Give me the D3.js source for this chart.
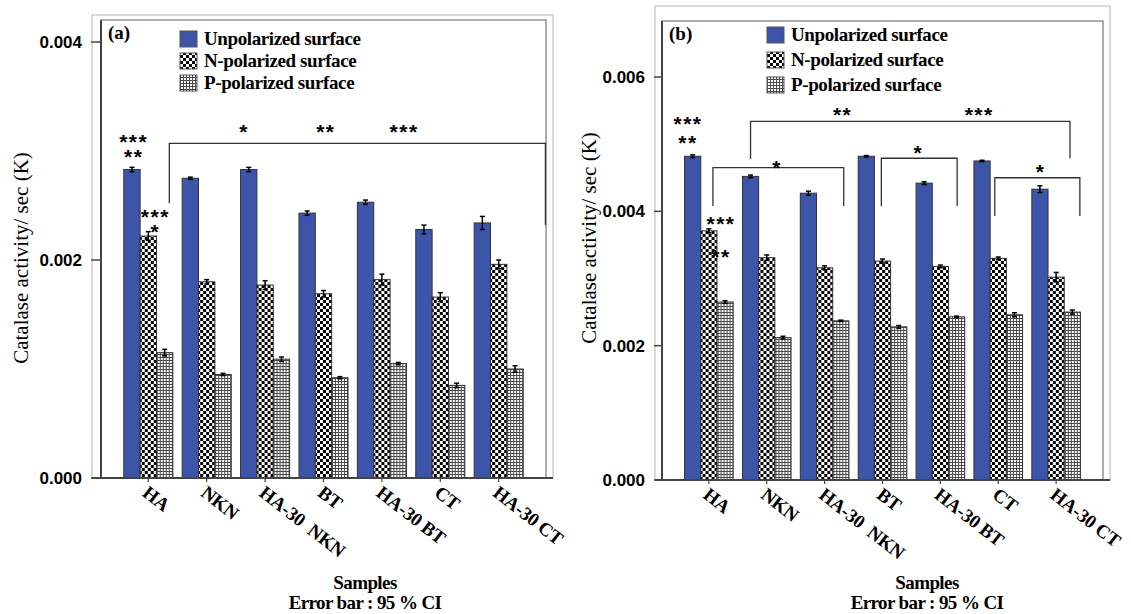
<!DOCTYPE html>
<html lang="en">
<head>
<meta charset="UTF-8">
<title>catalase activity</title>
<script src="https://d3js.org/d3.v7.min.js"></script>
<style>
  body { margin: 0; background: #fff; }
</style>
</head>
<body>
<script>
// categories + series
var samples = ["HA", "NKN", "HA-30  NKN", "BT", "HA-30 BT", "CT", "HA-30 CT"];
var seriesNames = ["Unpolarized surface", "N-polarized surface", "P-polarized surface"];

// panel (a) values
var aUnpol = [0.00283, 0.00275, 0.00283, 0.00243, 0.00253, 0.00228, 0.00234];
var aNpol  = [0.00222, 0.00180, 0.00177, 0.00169, 0.00182, 0.00166, 0.00196];
var aPpol  = [0.00115, 0.00095, 0.00109, 0.00092, 0.00105, 0.00085, 0.00100];
var aUnpolErr = [0.00002, 0.00001, 0.00002, 0.00002, 0.00002, 0.00004, 0.00006];
var aNpolErr  = [0.00004, 0.00002, 0.00004, 0.00003, 0.00005, 0.00004, 0.00004];
var aPpolErr  = [0.00003, 0.00001, 0.00002, 0.00001, 0.00001, 0.00002, 0.00003];
var aTicks = [0, 0.002, 0.004];

// panel (b)
var bUnpol = [0.00482, 0.00452, 0.00427, 0.00482, 0.00442, 0.00475, 0.00433];
var bNpol  = [0.00371, 0.00331, 0.00316, 0.00326, 0.00318, 0.00330, 0.00302];
var bPpol  = [0.00265, 0.00212, 0.00237, 0.00228, 0.00243, 0.00246, 0.00250];
var bUnpolErr = [0.00002, 0.00002, 0.00003, 0.00001, 0.00002, 0.00001, 0.00005];
var bNpolErr  = [0.00003, 0.00004, 0.00003, 0.00003, 0.00002, 0.00002, 0.00007];
var bPpolErr  = [0.00002, 0.00002, 0.00001, 0.00002, 0.00001, 0.00003, 0.00003];
var bTicks = [0, 0.002, 0.004, 0.006];

// significance marks, x in category-index units, y in data units
// (stacked star rows go into one text)
var aBrackets = [{x1: 0.36, x2: 6.8, top: 0.00307, d1: 0.00252, d2: 0.00232}];
var aStars = [
  {x: -0.25, y: 0.00313, t: ["***", "**"]},
  {x: 0.12, y: 0.00244, t: ["***", "*"]},
  {x: 1.64, y: 0.00322, t: ["*"]}, {x: 3.04, y: 0.00322, t: ["**"]}, {x: 4.38, y: 0.00322, t: ["***"]}
];
var bBrackets = [
  {x1: 0.72, x2: 6.24, top: 0.00534, d1: 0.00478, d2: 0.00479},
  {x1: 0.07, x2: 2.33, top: 0.00465, d1: 0.00408, d2: 0.00408},
  {x1: 2.98, x2: 4.29, top: 0.00479, d1: 0.00408, d2: 0.00408},
  {x1: 4.94, x2: 6.41, top: 0.00450, d1: 0.00393, d2: 0.00393}
];
var bStars = [
  {x: -0.36, y: 0.00538, t: ["***", "**"]},
  {x: 0.21, y: 0.00389, t: ["***"]}, {x: 0.21, y: 0.00340, t: ["**"]},
  {x: 2.31, y: 0.00551, t: ["**"]}, {x: 4.67, y: 0.00551, t: ["***"]},
  {x: 1.18, y: 0.00472, t: ["*"]}, {x: 3.62, y: 0.00494, t: ["*"]}, {x: 5.73, y: 0.00466, t: ["*"]}
];

var BLUE = "#3d55a9";
var SERIF = "'Liberation Serif', 'Times New Roman', serif";
var SANS = "'Liberation Sans', Arial, sans-serif";

var svg = d3.select("body").append("svg")
  .attr("width", 1131).attr("height", 614);

// fill patterns
var defs = svg.append("defs");
var chk = defs.append("pattern").attr("id", "chk")
  .attr("patternUnits", "userSpaceOnUse").attr("width", 6).attr("height", 6);
chk.append("rect").attr("width", 6).attr("height", 6).attr("fill", "#fff");
chk.append("rect").attr("width", 3).attr("height", 3).attr("fill", "#000");
chk.append("rect").attr("x", 3).attr("y", 3).attr("width", 3).attr("height", 3).attr("fill", "#000");

var grid = defs.append("pattern").attr("id", "grid")
  .attr("patternUnits", "userSpaceOnUse").attr("width", 3).attr("height", 3);
grid.append("rect").attr("width", 3).attr("height", 3).attr("fill", "#fff");
grid.append("path").attr("d", "M0,0.5H3M0.5,0V3").attr("stroke", "#4a4a4a").attr("stroke-width", 1);

var fills = [BLUE, "url(#chk)", "url(#grid)"];

function drawPanel(p) {
  var g = svg.append("g");

  var x = d3.scaleBand().domain(samples)
    .range([p.left, p.right]).paddingInner(0.16).paddingOuter(0.39);
  var xs = d3.scaleBand().domain([0, 1, 2]).range([0, x.bandwidth()]);
  var y = d3.scaleLinear().domain([0, p.tickMax]).range([p.bottom, p.tickTop]);
  var xi = function(i) { return x(samples[0]) + x.bandwidth() / 2 + i * x.step(); };

  // frames
  g.append("rect").attr("x", p.oLeft).attr("y", p.oTop)
    .attr("width", p.oRight - p.oLeft).attr("height", p.bottom - p.oTop)
    .attr("fill", "none").attr("stroke", "#b5b5b5").attr("stroke-width", 1);
  g.append("rect").attr("x", p.left).attr("y", p.top)
    .attr("width", p.right - p.left).attr("height", p.bottom - p.top)
    .attr("fill", "#fff").attr("stroke", "#777").attr("stroke-width", 1.2);

  // bars
  var rows = samples.map(function(s, i) {
    return {s: s, v: [p.vals[0][i], p.vals[1][i], p.vals[2][i]],
            e: [p.errs[0][i], p.errs[1][i], p.errs[2][i]]};
  });
  var grp = g.selectAll(".grp").data(rows).enter().append("g")
    .attr("transform", function(d) { return "translate(" + x(d.s) + ",0)"; });

  grp.selectAll("rect").data(function(d) { return d.v; }).enter().append("rect")
    .attr("x", function(d, k) { return xs(k); })
    .attr("y", function(d) { return y(d); })
    .attr("width", xs.bandwidth())
    .attr("height", function(d) { return y(0) - y(d); })
    .attr("fill", function(d, k) { return fills[k]; })
    .attr("stroke", "#333").attr("stroke-width", 1);

  // error bars
  var eb = grp.selectAll(".eb").data(function(d) {
    return d.v.map(function(v, k) { return {v: v, e: d.e[k], k: k}; });
  }).enter().append("g");
  eb.append("line")
    .attr("x1", function(d) { return xs(d.k) + xs.bandwidth() / 2; })
    .attr("x2", function(d) { return xs(d.k) + xs.bandwidth() / 2; })
    .attr("y1", function(d) { return y(d.v - d.e); })
    .attr("y2", function(d) { return y(d.v + d.e); })
    .attr("stroke", "#000").attr("stroke-width", 1.5);
  [1, -1].forEach(function(sgn) {
    eb.append("line")
      .attr("x1", function(d) { return xs(d.k) + xs.bandwidth() / 2 - 2.5; })
      .attr("x2", function(d) { return xs(d.k) + xs.bandwidth() / 2 + 2.5; })
      .attr("y1", function(d) { return y(d.v + sgn * d.e); })
      .attr("y2", function(d) { return y(d.v + sgn * d.e); })
      .attr("stroke", "#000").attr("stroke-width", 1.5);
  });

  // axes
  g.append("line").attr("x1", p.left).attr("x2", p.left)
    .attr("y1", p.top).attr("y2", p.bottom).attr("stroke", "#444").attr("stroke-width", 2);
  g.append("line").attr("x1", p.oLeft).attr("x2", p.oRight)
    .attr("y1", p.bottom).attr("y2", p.bottom).attr("stroke", "#444").attr("stroke-width", 2);

  g.selectAll(".yt").data(p.ticks).enter().append("line")
    .attr("x1", p.oLeft - 1).attr("x2", p.left)
    .attr("y1", function(d) { return y(d); }).attr("y2", function(d) { return y(d); })
    .attr("stroke", "#444").attr("stroke-width", 1.5);
  g.selectAll(".yl").data(p.ticks).enter().append("text")
    .attr("x", p.oLeft - 10).attr("y", function(d) { return y(d); })
    .attr("dy", "0.35em").attr("text-anchor", "end")
    .attr("font-family", SANS).attr("font-weight", "bold").attr("font-size", 17)
    .text(d3.format(".3f"));

  g.selectAll(".xt").data(samples).enter().append("line")
    .attr("x1", function(d) { return x(d) + x.bandwidth() / 2; })
    .attr("x2", function(d) { return x(d) + x.bandwidth() / 2; })
    .attr("y1", p.bottom).attr("y2", p.bottom + 4)
    .attr("stroke", "#444").attr("stroke-width", 1.2);
  g.selectAll(".xl").data(samples).enter().append("text")
    .attr("transform", function(d) {
      return "translate(" + (x(d) + x.bandwidth() / 2 - 7) + "," + (p.bottom + 17) + ") rotate(38)";
    })
    .attr("font-family", SERIF).attr("font-weight", "bold").attr("font-size", 19)
    .attr("letter-spacing", -0.3)
    .style("white-space", "pre")
    .text(function(d) { return d; });

  // axis titles
  g.append("text")
    .attr("transform", "translate(" + p.yTitleX + "," + p.yTitleY + ") rotate(-90)")
    .attr("text-anchor", "middle")
    .attr("font-family", SERIF).attr("font-size", 21)
    .text("Catalase activity/ sec (K)");
  g.append("text").attr("x", p.xTitleX).attr("y", 589)
    .attr("text-anchor", "middle")
    .attr("font-family", SERIF).attr("font-weight", "bold").attr("font-size", 19)
    .attr("letter-spacing", -0.6)
    .text("Samples");
  g.append("text").attr("x", p.xTitleX).attr("y", 609)
    .attr("text-anchor", "middle")
    .attr("font-family", SERIF).attr("font-weight", "bold").attr("font-size", 19)
    .attr("letter-spacing", -0.6)
    .text("Error bar : 95 % CI");

  // panel letter
  g.append("text").attr("x", p.left + 7).attr("y", p.top + 19)
    .attr("font-family", SERIF).attr("font-weight", "bold").attr("font-size", 19)
    .text(p.letter);

  // legend
  var lg = g.selectAll(".lg").data(seriesNames).enter().append("g")
    .attr("transform", function(d, i) { return "translate(" + p.legX + "," + (p.legY + i * p.legStep) + ")"; });
  lg.append("rect").attr("x", 0).attr("y", -8).attr("width", 17).attr("height", 16)
    .attr("fill", function(d, i) { return fills[i]; })
    .attr("stroke", "#555").attr("stroke-width", 1);
  lg.append("text").attr("x", 24).attr("y", 0).attr("dy", "0.33em")
    .attr("font-family", SERIF).attr("font-weight", "bold").attr("font-size", 19)
    .attr("letter-spacing", -0.4)
    .text(function(d) { return d; });

  // significance brackets and stars
  g.selectAll(".br").data(p.brackets).enter().append("path")
    .attr("d", function(d) {
      return "M" + xi(d.x1) + "," + y(d.d1) + "V" + y(d.top) + "H" + xi(d.x2) + "V" + y(d.d2);
    })
    .attr("fill", "none").attr("stroke", "#333").attr("stroke-width", 1.3);
  var st = g.selectAll(".st").data(p.stars).enter().append("text")
    .attr("x", function(d) { return xi(d.x); })
    .attr("y", function(d) { return y(d.y) + 12; })
    .attr("text-anchor", "middle")
    .attr("font-family", SANS).attr("font-weight", "bold").attr("font-size", 21)
    .attr("letter-spacing", 1.5);
  st.selectAll("tspan").data(function(d) { return d.t.map(function(s) { return {s: s, x: xi(d.x)}; }); })
    .enter().append("tspan")
    .attr("x", function(d) { return d.x; })
    .attr("dy", function(d, i) { return i === 0 ? 0 : p.starGap; })
    .text(function(d) { return d.s; });
}

drawPanel({
  letter: "(a)", left: 101, right: 546, top: 20, bottom: 478,
  oLeft: 92, oRight: 553, oTop: 15, tickMax: 0.004, tickTop: 42,
  ticks: aTicks, vals: [aUnpol, aNpol, aPpol], errs: [aUnpolErr, aNpolErr, aPpolErr],
  brackets: aBrackets, stars: aStars, starGap: 15,
  legX: 180, legY: 39, legStep: 22,
  yTitleX: 28, yTitleY: 258, xTitleX: 365
});
drawPanel({
  letter: "(b)", left: 662, right: 1103, top: 21, bottom: 480,
  oLeft: 655, oRight: 1110, oTop: 6, tickMax: 0.006, tickTop: 77,
  ticks: bTicks, vals: [bUnpol, bNpol, bPpol], errs: [bUnpolErr, bNpolErr, bPpolErr],
  brackets: bBrackets, stars: bStars, starGap: 19,
  legX: 767, legY: 35, legStep: 25,
  yTitleX: 596, yTitleY: 238, xTitleX: 927
});
</script>
</body>
</html>
